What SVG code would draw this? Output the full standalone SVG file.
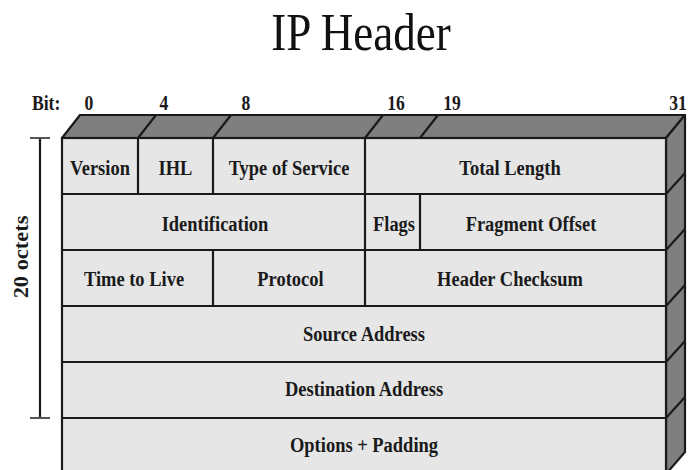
<svg xmlns="http://www.w3.org/2000/svg" width="695" height="470" viewBox="0 0 695 470">
<style>
.face{fill:#e6e6e6;stroke:#1a1a1a;stroke-width:2.2}
.dark{fill:#7f7f7f;stroke:#1a1a1a;stroke-width:2.2;stroke-linejoin:round}
.ln{stroke:#1a1a1a;stroke-width:2.2;fill:none}
.t{font-family:"Liberation Serif","Times New Roman",serif;font-weight:bold;font-size:22px;fill:#1a1a1a;text-anchor:middle}
.b{font-family:"Liberation Serif","Times New Roman",serif;font-weight:bold;font-size:20px;fill:#1a1a1a;text-anchor:middle}
.title{font-family:"Liberation Serif","Times New Roman",serif;font-size:53px;fill:#111;text-anchor:middle}
</style>
<rect width="695" height="470" fill="#ffffff"/>
<text class="title" transform="translate(361,50) scale(0.85,1)">IP Header</text>

<g id="bit-scale">
<text class="b" transform="translate(32,110) scale(0.88,1)" style="text-anchor:start">Bit:</text>
<text class="b" transform="translate(89,110) scale(0.88,1)">0</text>
<text class="b" transform="translate(164,110) scale(0.88,1)">4</text>
<text class="b" transform="translate(246,110) scale(0.88,1)">8</text>
<text class="b" transform="translate(396,110) scale(0.88,1)">16</text>
<text class="b" transform="translate(452,110) scale(0.88,1)">19</text>
<text class="b" transform="translate(678,110) scale(0.88,1)">31</text>
</g>

<g id="box3d">
<polygon class="dark" points="62,138 80,115 685,115 666,138"/>
<polygon class="dark" points="666,138 685,115 685,452 666,474"/>
<rect class="face" x="62" y="138" width="604" height="336"/>
<path class="ln" d="M138,138 L156,115 M213,138 L231,115 M365,138 L383,115 M420,138 L438,115"/>
<path class="ln" d="M666,194 L685,173 M666,250 L685,229 M666,306 L685,285 M666,362 L685,341 M666,418 L685,397"/>
<path class="ln" d="M62,194 H666 M62,250 H666 M62,306 H666 M62,362 H666 M62,418 H666"/>
</g>

<g id="version"><path class="ln" d="M138,138 V194"/><text class="t" transform="translate(100,175) scale(0.84,1)">Version</text></g>
<g id="ihl"><path class="ln" d="M213,138 V194"/><text class="t" transform="translate(175.5,175) scale(0.84,1)">IHL</text></g>
<g id="type-of-service"><path class="ln" d="M365,138 V194"/><text class="t" transform="translate(289,175) scale(0.84,1)">Type of Service</text></g>
<g id="total-length"><text class="t" transform="translate(510,175) scale(0.84,1)">Total Length</text></g>

<g id="identification"><text class="t" transform="translate(215,231) scale(0.84,1)">Identification</text></g>
<g id="flags"><path class="ln" d="M365,194 V250 M420,194 V250"/><text class="t" transform="translate(394,231) scale(0.84,1)">Flags</text></g>
<g id="fragment-offset"><text class="t" transform="translate(531,231) scale(0.84,1)">Fragment Offset</text></g>

<g id="time-to-live"><path class="ln" d="M213,250 V306"/><text class="t" transform="translate(134,286) scale(0.84,1)">Time to Live</text></g>
<g id="protocol"><path class="ln" d="M365,250 V306"/><text class="t" transform="translate(290.5,286) scale(0.84,1)">Protocol</text></g>
<g id="header-checksum"><text class="t" transform="translate(510,286) scale(0.84,1)">Header Checksum</text></g>

<g id="source-address"><text class="t" transform="translate(364,341) scale(0.84,1)">Source Address</text></g>
<g id="destination-address"><text class="t" transform="translate(364,396) scale(0.84,1)">Destination Address</text></g>
<g id="options-padding"><text class="t" transform="translate(364,452) scale(0.84,1)">Options + Padding</text></g>

<g id="connectors">
<path class="ln" d="M40,138 V418"/>
<path d="M30,138 H50 M30,418 H50" stroke="#555" stroke-width="2" fill="none"/>
</g>
<g id="octets-label">
<text class="b" transform="translate(28,257) rotate(-90) scale(1.12,1)">20 octets</text>
</g>
</svg>
